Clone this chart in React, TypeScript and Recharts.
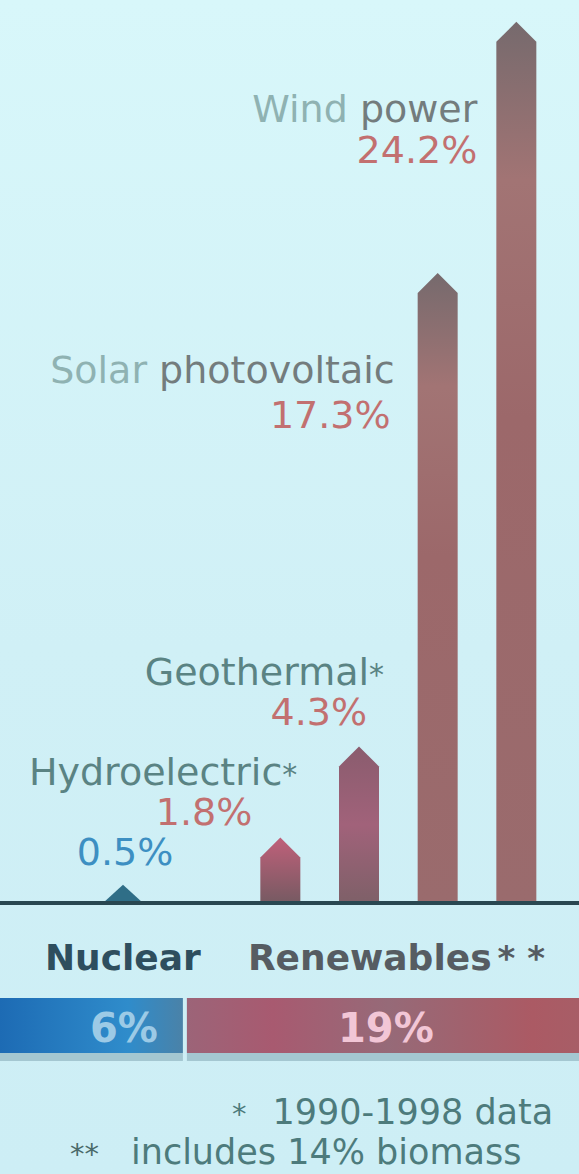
import { BarChart, Bar, XAxis, YAxis, Cell } from 'recharts'

const categories = ['Nuclear', '', 'Hydroelectric*', 'Geothermal*', 'Solar photovoltaic', 'Wind power']
const shares = [0.5, null, 1.8, 4.3, 17.3, 24.2]
const shareLabels = ['0.5%', '', '1.8%', '4.3%', '17.3%', '24.2%']

const mixGroups = ['Nuclear', 'Renewables**']
const mixShares = [6, 19]
const mixLabels = ['6%', '19%']

const footnotes = ['* 1990-1998 data', '** includes 14% biomass']

const data = categories.map((name, i) => ({ name, share: shares[i], label: shareLabels[i] }))
const mixData = [{ name: 'mix', nuclear: mixShares[0], renewables: mixShares[1] }]
const mixTotal = mixShares[0] + mixShares[1]

const FONT = '"DejaVu Sans", sans-serif'
const W = 579

const fills = ['#2f6e87', 'none', 'url(#gHydro)', 'url(#gGeo)', 'url(#gTall)', 'url(#gTall)']

// text placement relative to each bar (centre x, top y)
const place = [
  { anchor: 'middle', valDx: 2, valDy: -20, nameDx: 0, nameDy: 0 },
  null,
  { anchor: 'end', valDx: -28, valDy: -12, nameDx: 17, nameDy: -52 },
  { anchor: 'end', valDx: 8, valDy: -21, nameDx: 25, nameDy: -61 },
  { anchor: 'end', valDx: -47, valDy: 155, nameDx: -43, nameDy: 110 },
  { anchor: 'end', valDx: -39, valDy: 141, nameDx: -39, nameDy: 100 },
]

function NameLabel({ x, y, name }: { x: number; y: number; name: string }) {
  const star = name.endsWith('*')
  const base = star ? name.slice(0, -1) : name
  const sp = base.indexOf(' ')
  return (
    <text x={x} y={y} textAnchor="end" fontSize={38} fontFamily={FONT} fill="#5a8383">
      {sp > 0 ? (
        <>
          <tspan fill="#8fb2b2">{base.slice(0, sp)}</tspan>
          <tspan fill="#737c7d">{base.slice(sp)}</tspan>
        </>
      ) : (
        base
      )}
      {star && <tspan fontSize={30}>*</tspan>}
    </text>
  )
}

function Pencil(props: any) {
  const { x, y, width, height, fill } = props
  const i = categories.indexOf(props.payload?.name ?? props.name)
  if (!height || height <= 0 || i < 0) return null
  const tip = Math.min(20, height)
  const d = `M${x},${y + height} L${x},${y + tip} L${x + width / 2},${y} L${x + width},${y + tip} L${x + width},${y + height} Z`
  const p = place[i]!
  const cx = x + width / 2
  return (
    <g>
      <path d={d} fill={fill} />
      {p.anchor === 'end' && <NameLabel x={cx + p.nameDx} y={y + p.nameDy} name={categories[i]} />}
      <text
        x={cx + p.valDx}
        y={y + p.valDy}
        textAnchor={p.anchor as any}
        fontSize={38}
        fontFamily={FONT}
        fill={i === 0 ? '#3d8fc2' : '#c27070'}
      >
        {shareLabels[i]}
      </text>
    </g>
  )
}

function MixSegment(props: any & { group: number }) {
  const { x, y, width, height, fill, group } = props
  if (!width || width <= 0) return null
  const nuclear = group === 0
  const rx = nuclear ? x : x + 4
  const valueX = nuclear ? x + width - 59 : x + 203
  const titleX = nuclear ? x + width - 138 : x + 65
  const title = mixGroups[group]
  const stars = title.endsWith('**')
  return (
    <g>
      <rect x={rx} y={y} width={width - (nuclear ? 0 : 4)} height={height} fill={fill} />
      <rect x={rx} y={y + height} width={width} height={8} fill="#a4c7d1" />
      <text x={titleX} y={y - 28} fontSize={36} fontWeight="bold" fontFamily={FONT} fill={nuclear ? '#2e4e5e' : '#565c62'}>
        {stars ? title.slice(0, -2) : title}
        {stars && <tspan dx={6} fontSize={34}>* *</tspan>}
      </text>
      <text x={valueX} y={y + 44} textAnchor="middle" fontSize={40} fontWeight="bold" fontFamily={FONT} fill={nuclear ? '#9ccae6' : '#f2c6d6'}>
        {mixLabels[group]}
      </text>
    </g>
  )
}

export default function App() {
  return (
    <div
      style={{
        position: 'relative',
        width: W,
        height: 1174,
        overflow: 'hidden',
        background: 'linear-gradient(180deg, #d8f7fa 0%, #d0f0f6 55%, #cdeef5 100%)',
      }}
    >
      <style>{'body{margin:0}'}</style>
      <svg width={0} height={0} style={{ position: 'absolute' }}>
        <defs>
          <linearGradient id="gTall" x1="0" y1="0" x2="0" y2="1">
            <stop offset="0%" stopColor="#766a6d" />
            <stop offset="18%" stopColor="#a27474" />
            <stop offset="45%" stopColor="#9c686a" />
            <stop offset="100%" stopColor="#9a6b6d" />
          </linearGradient>
          <linearGradient id="gGeo" x1="0" y1="0" x2="0" y2="1">
            <stop offset="0%" stopColor="#8a5c6e" />
            <stop offset="50%" stopColor="#a1627a" />
            <stop offset="100%" stopColor="#7e6068" />
          </linearGradient>
          <linearGradient id="gHydro" x1="0" y1="0" x2="0" y2="1">
            <stop offset="0%" stopColor="#c0607a" />
            <stop offset="100%" stopColor="#765a62" />
          </linearGradient>
          <linearGradient id="gBlue" x1="0" y1="0" x2="1" y2="0">
            <stop offset="0%" stopColor="#1d6bb4" />
            <stop offset="70%" stopColor="#2f8ccb" />
            <stop offset="100%" stopColor="#4a82a8" />
          </linearGradient>
          <linearGradient id="gRed" x1="0" y1="0" x2="1" y2="0">
            <stop offset="0%" stopColor="#9c6478" />
            <stop offset="15%" stopColor="#a85a70" />
            <stop offset="35%" stopColor="#966a78" />
            <stop offset="60%" stopColor="#ab5a64" />
            <stop offset="100%" stopColor="#9a6a70" />
          </linearGradient>
        </defs>
      </svg>

      <div style={{ position: 'absolute', left: 0, top: 0 }}>
        <BarChart width={W} height={905} data={data} margin={{ top: 0, right: 0, left: 0, bottom: 0 }} barCategoryGap={0}>
          <XAxis
            dataKey="name"
            tick={false}
            tickLine={false}
            axisLine={{ stroke: '#294751', strokeWidth: 4 }}
            height={2}
            padding={{ left: 84, right: 23 }}
          />
          <YAxis hide domain={[0, 24.8]} />
          <Bar dataKey="share" barSize={40} isAnimationActive={false} shape={(p: any) => <Pencil {...p} />}>
            {data.map((d, i) => (
              <Cell key={d.name + i} fill={fills[i]} />
            ))}
          </Bar>
        </BarChart>
      </div>

      <div style={{ position: 'absolute', left: 0, top: 930, width: W, height: 140, overflow: 'hidden' }}>
        <BarChart
          width={762}
          height={140}
          data={mixData}
          layout="vertical"
          margin={{ top: 68, right: 0, left: 0, bottom: 17 }}
          barCategoryGap={0}
        >
          <XAxis type="number" hide domain={[0, mixTotal]} />
          <YAxis type="category" dataKey="name" hide />
          <Bar dataKey="nuclear" stackId="mix" fill="url(#gBlue)" isAnimationActive={false} shape={(p: any) => <MixSegment {...p} group={0} />} />
          <Bar dataKey="renewables" stackId="mix" fill="url(#gRed)" isAnimationActive={false} shape={(p: any) => <MixSegment {...p} group={1} />} />
        </BarChart>
      </div>

      <svg width={W} height={114} style={{ position: 'absolute', left: 0, top: 1060 }}>
        <text x={232} y={64} fontSize={35} fontFamily={FONT} fill="#4d7b7c">
          <tspan fontSize={29}>{footnotes[0].slice(0, 1)}</tspan>
          <tspan dx={26}>{footnotes[0].slice(2)}</tspan>
        </text>
        <text x={70} y={104} fontSize={35} fontFamily={FONT} fill="#4d7b7c">
          <tspan fontSize={29} fill="#4a6a6a">{footnotes[1].slice(0, 2)}</tspan>
          <tspan dx={32}>{footnotes[1].slice(3)}</tspan>
        </text>
      </svg>
    </div>
  )
}
